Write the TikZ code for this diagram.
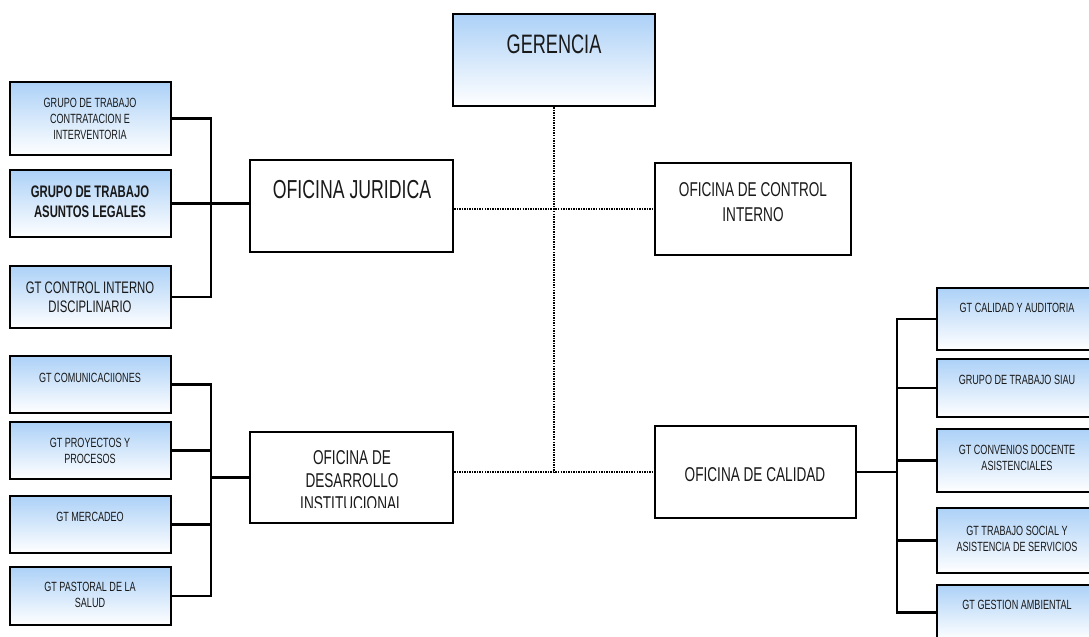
\documentclass[tikz,border=0pt]{standalone}
\usepackage{fontspec}
\setmainfont[FakeStretch=0.68]{Liberation Sans}
\usetikzlibrary{fit}
\definecolor{boxblue}{RGB}{172,209,247}
\definecolor{txtcol}{RGB}{25,25,25}
\begin{document}
\begin{tikzpicture}[x=0.75pt,y=-0.75pt,
  gbox/.style={draw, line width=1.7pt, top color=boxblue, bottom color=white, inner sep=0pt},
  wbox/.style={draw, line width=1.7pt, fill=white, inner sep=0pt},
  conn/.style={line width=1.7pt},
  dots/.style={line width=1.7pt, dash pattern=on 1.1pt off 0.8pt},
  txt/.style={align=center, inner sep=0pt, text=txtcol},
  huge/.style={txt, font=\fontsize{20}{24}\selectfont},
  big/.style={txt, font=\fontsize{19.5}{23}\selectfont},
  mid/.style={txt, font=\fontsize{15}{19}\selectfont},
  small/.style={txt, font=\fontsize{10}{12}\selectfont},
  smallb/.style={txt, font=\fontsize{12.5}{15}\selectfont\bfseries},
  smallm/.style={txt, font=\fontsize{12.5}{14.5}\selectfont}
]
\useasboundingbox (0,0) rectangle (1089,636);

% main boxes
\node[gbox, fit={(453,14) (655,106)}] (ger) {};
\node[huge] (gert) at (554,44) {GERENCIA};
\node[wbox, fit={(250,160) (453,252)}] (jur) {};
\node[big] (jurt) at (352,190) {OFICINA JURIDICA};
\node[wbox, fit={(655,163) (851,255)}] (ci) {};
\node[mid] (cit) at (753,202) {OFICINA DE CONTROL\\INTERNO};
\node[wbox, fit={(250,432) (453,523)}] (des) {};
\begin{scope}
\clip (250,432) rectangle (453,507);
\node[mid, font=\fontsize{15}{17.3}\selectfont] (dest) at (352,481) {OFICINA DE\\DESARROLLO\\INSTITUCIONAL};
\end{scope}
\node[wbox, fit={(655,426) (856,518)}] (cal) {};
\node[mid] (calt) at (755,475) {OFICINA DE CALIDAD};

% left top group
\node[gbox, fit={(10,82) (171,155)}] (a1) {};
\node[small] (a1t) at (90,119) {GRUPO DE TRABAJO\\CONTRATACION E\\INTERVENTORIA};
\node[gbox, fit={(10,170) (171,237)}] (a2) {};
\node[smallb] (a2t) at (90,202) {GRUPO DE TRABAJO\\ASUNTOS LEGALES};
\node[gbox, fit={(10,266) (171,328)}] (a3) {};
\node[smallm] (a3t) at (90,297) {GT CONTROL INTERNO\\DISCIPLINARIO};

% left bottom group
\node[gbox, fit={(10,356) (171,413)}] (b1) {};
\node[small] (b1t) at (90,378) {GT COMUNICACIIONES};
\node[gbox, fit={(10,422) (171,479)}] (b2) {};
\node[small] (b2t) at (90,451) {GT PROYECTOS Y\\PROCESOS};
\node[gbox, fit={(10,496) (171,553)}] (b3) {};
\node[small] (b3t) at (90,517) {GT MERCADEO};
\node[gbox, fit={(10,567) (171,625)}] (b4) {};
\node[small] (b4t) at (90,595) {GT PASTORAL DE LA\\SALUD};

% right group
\node[gbox, fit={(937,288) (1100,350)}] (c1) {};
\node[small] (c1t) at (1017,308) {GT CALIDAD Y AUDITORIA};
\node[gbox, fit={(937,359) (1100,417)}] (c2) {};
\node[small] (c2t) at (1017,380) {GRUPO DE TRABAJO SIAU};
\node[gbox, fit={(937,429) (1100,492)}] (c3) {};
\node[small] (c3t) at (1017,458) {GT CONVENIOS DOCENTE\\ASISTENCIALES};
\node[gbox, fit={(937,508) (1100,573)}] (c4) {};
\node[small] (c4t) at (1017,539) {GT TRABAJO SOCIAL Y\\ASISTENCIA DE SERVICIOS};
\node[gbox, fit={(937,585) (1100,640)}] (c5) {};
\node[small] (c5t) at (1017,605) {GT GESTION AMBIENTAL};

% bus coordinates
\coordinate (jx) at (211,0);
\coordinate (dx) at (211,0);
\coordinate (cx) at (897,0);

% solid connectors
\draw[conn] (a1.east) -- (a1.east -| jx) -- (a3.east -| jx) -- (a3.east);
\draw[conn] (a2.east) -- (a2.east -| jur.west);
\draw[conn] (b1.east) -- (b1.east -| dx) -- (b4.east -| dx) -- (b4.east);
\draw[conn] (b2.east) -- (b2.east -| dx);
\draw[conn] (b3.east) -- (b3.east -| dx);
\draw[conn] (des.west) -- (des.west -| dx);
\draw[conn] (cal.east) -- (cal.east -| cx);
\draw[conn] (c1.west) -- (c1.west -| cx) -- (c5.west -| cx) -- (c5.west);
\draw[conn] (c2.west) -- (c2.west -| cx);
\draw[conn] (c3.west) -- (c3.west -| cx);
\draw[conn] (c4.west) -- (c4.west -| cx);

% dotted connectors
\draw[dots] (ger.south) -- (ger.south |- cal.west);
\draw[dots] (jur.east |- ci.west) -- (ci.west);
\draw[dots] (des.east |- cal.west) -- (cal.west);
\end{tikzpicture}
\end{document}
